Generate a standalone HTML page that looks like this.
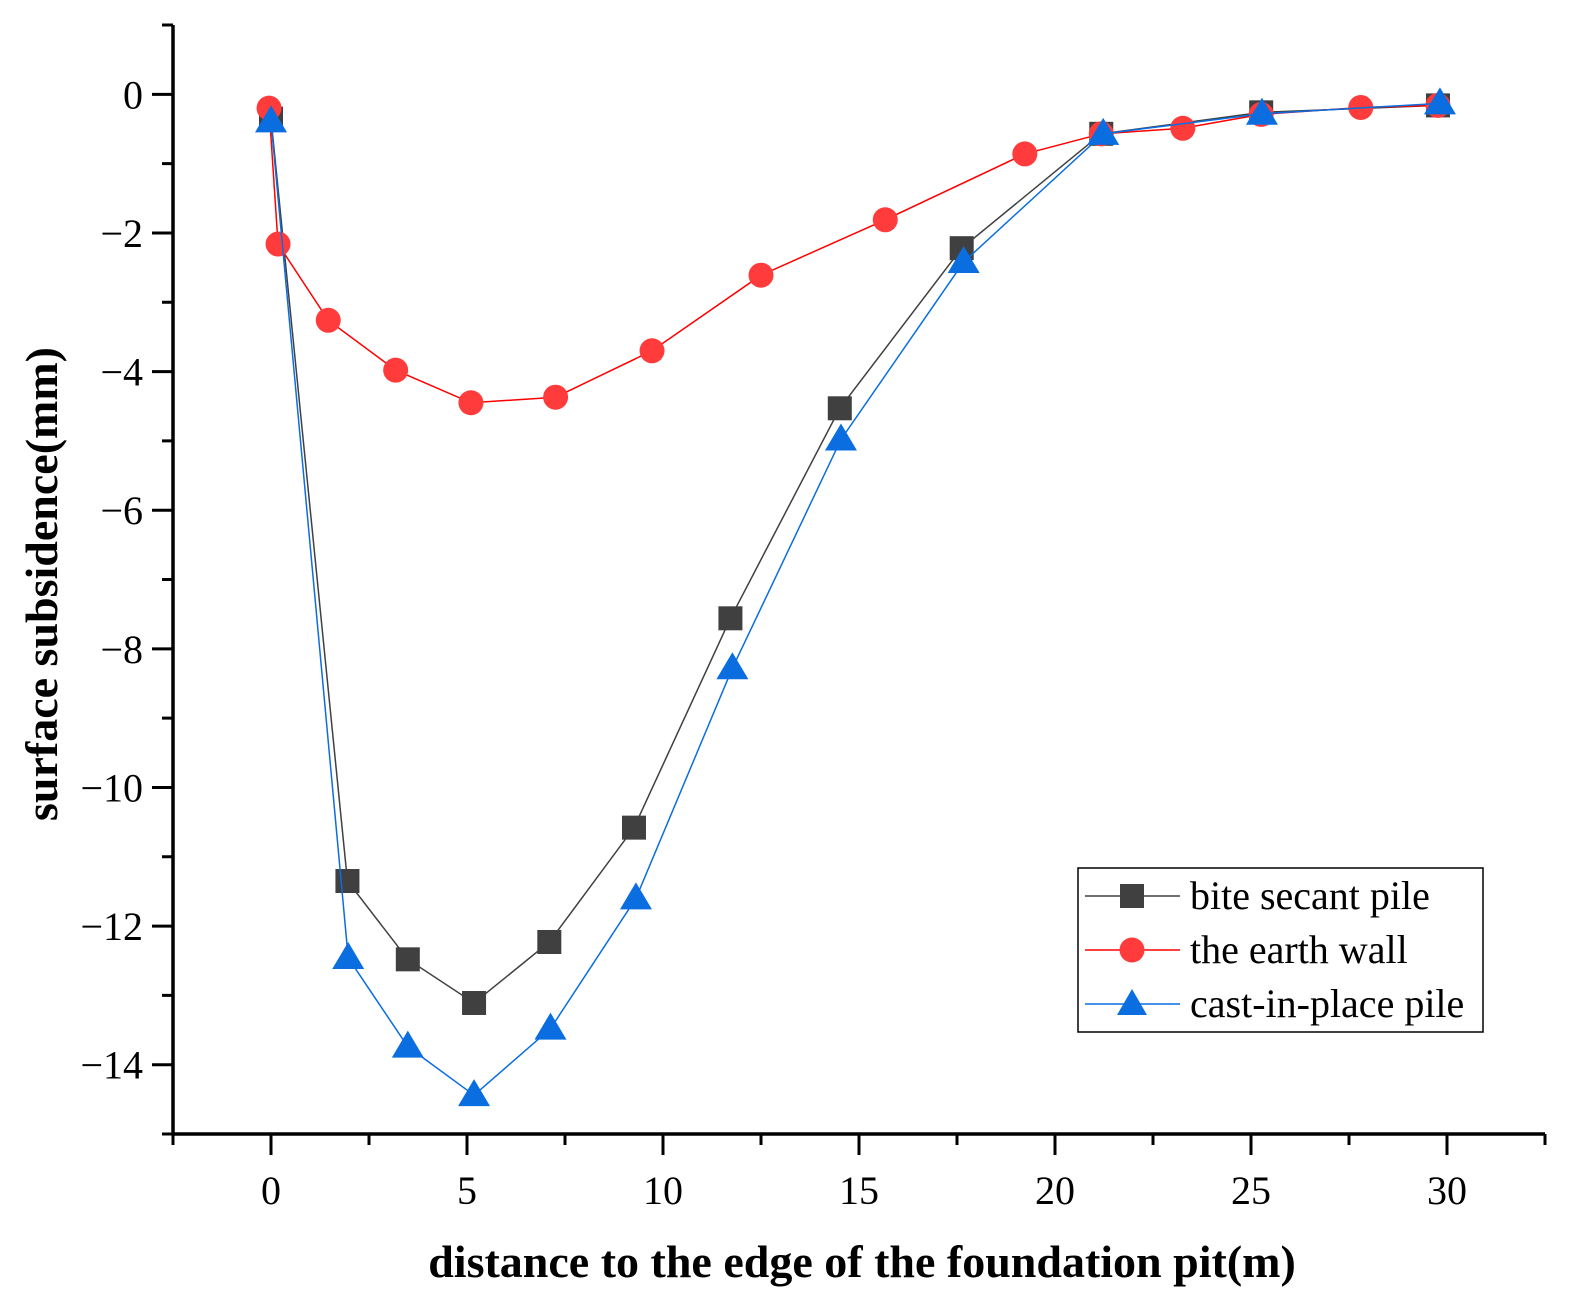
<!DOCTYPE html>
<html><head><meta charset="utf-8"><style>
html,body{margin:0;padding:0;background:#fff;}
svg{display:block;font-family:"Liberation Serif",serif;}
</style></head><body>
<svg id="chart" width="1579" height="1297" viewBox="0 0 1579 1297" xmlns="http://www.w3.org/2000/svg">
<g id="axes"></g>
<g id="series"></g>
<text x="862" y="1277" text-anchor="middle" font-size="46" font-weight="bold">distance to the edge of the foundation pit(m)</text>
<text transform="translate(57,584) rotate(-90)" text-anchor="middle" font-size="46" font-weight="bold">surface subsidence(mm)</text>
<g>
<rect x="1078" y="868" width="405" height="164" fill="#fff" stroke="#000" stroke-width="1.5"/>
<g>
<line x1="1085" y1="896" x2="1180" y2="896" stroke="#404040" stroke-width="1.5"/>
<rect x="1120" y="884" width="24" height="24" fill="#404040"/>
<text x="1190" y="909" font-size="40">bite secant pile</text></g>
<g>
<line x1="1085" y1="950" x2="1180" y2="950" stroke="#ff0000" stroke-width="1.5"/>
<circle cx="1132" cy="950" r="12.5" fill="#ff3b3b"/>
<text x="1190" y="963" font-size="40">the earth wall</text></g>
<g>
<line x1="1085" y1="1004" x2="1180" y2="1004" stroke="#0a6ee0" stroke-width="1.5"/>
<polygon points="1132,989 1147,1015 1117,1015" fill="#0a6ee0"/>
<text x="1190" y="1017" font-size="40">cast-in-place pile</text></g>
</g>
</svg>
<script>
const xTicks=[0,5,10,15,20,25,30];
const yTicks=[0,-2,-4,-6,-8,-10,-12,-14];
const biteX=[0,1.95,3.49,5.18,7.1,9.26,11.72,14.51,17.62,21.18,25.26,29.77];
const biteY=[-0.35,-11.35,-12.48,-13.11,-12.23,-10.58,-7.56,-4.53,-2.22,-0.57,-0.26,-0.16];
const earthX=[-0.05,0.18,1.46,3.18,5.1,7.26,9.72,12.5,15.67,19.23,21.18,23.26,25.26,27.8,29.77];
const earthY=[-0.2,-2.16,-3.26,-3.98,-4.45,-4.37,-3.7,-2.61,-1.81,-0.86,-0.57,-0.49,-0.29,-0.19,-0.16];
const castX=[0,1.97,3.49,5.18,7.13,9.31,11.77,14.54,17.67,21.23,25.28,29.82];
const castY=[-0.39,-12.46,-13.74,-14.44,-13.48,-11.6,-8.28,-4.98,-2.42,-0.57,-0.28,-0.13];
const NS="http://www.w3.org/2000/svg";
const X0=173,X1=1545,Y0=25,Y1=1134,xmin=-2.5,xmax=32.5,ymin=-15,ymax=1;
const sx=v=>X0+(v-xmin)/(xmax-xmin)*(X1-X0);
const sy=v=>Y1-(v-ymin)/(ymax-ymin)*(Y1-Y0);
function mk(t,a,p){const e=document.createElementNS(NS,t);for(const k in a)e.setAttribute(k,a[k]);p.appendChild(e);return e;}
const ax=document.getElementById('axes');
let l=mk('line',{x1:X0,y1:Y0,x2:X0,y2:Y1+1.5,stroke:'#000','stroke-width':3.5},ax);


l=mk('line',{x1:X0-1.5,y1:Y1,x2:X1,y2:Y1,stroke:'#000','stroke-width':3.5},ax);


for(let v=xmin;v<=xmax+0.01;v+=2.5){const maj=xTicks.includes(v);mk('line',{x1:sx(v),y1:Y1,x2:sx(v),y2:Y1+(maj?21:11),stroke:'#000','stroke-width':3},ax);}
for(let v=ymin;v<=ymax+0.01;v+=1){const maj=yTicks.includes(v);mk('line',{x1:X0,y1:sy(v),x2:X0-(maj?21:11),y2:sy(v),stroke:'#000','stroke-width':3},ax);}
xTicks.forEach(v=>{const t=mk('text',{x:sx(v),y:Y1+70,'text-anchor':'middle','font-size':40},ax);t.textContent=v;

});
yTicks.forEach(v=>{const t=mk('text',{x:X0-30,y:sy(v)+14,'text-anchor':'end','font-size':40},ax);t.textContent=v===0?'0':'\u2212'+Math.abs(v);

});
const sg=document.getElementById('series');
function series(xs,ys,col,mcol,shape,name){
  const g=mk('g',{},sg);
  
  
  mk('polyline',{points:xs.map((x,i)=>sx(x)+','+sy(ys[i])).join(' '),fill:'none',stroke:col,'stroke-width':1.5},g);
  xs.forEach((x,i)=>{const cx=sx(x),cy=sy(ys[i]);let m;
    if(shape==='sq')m=mk('rect',{x:cx-12,y:cy-12,width:24,height:24,fill:mcol},g);
    else if(shape==='ci')m=mk('circle',{cx:cx,cy:cy,r:12.5,fill:mcol},g);
    else m=mk('polygon',{points:`${cx},${cy-16} ${cx+16},${cy+11} ${cx-16},${cy+11}`,fill:mcol},g);
    
    });
}
series(biteX,biteY,'#404040','#404040','sq','bite-secant-pile-series');
series(earthX,earthY,'#ff0000','#ff3b3b','ci','earth-wall-series');
series(castX,castY,'#0a6ee0','#0a6ee0','tr','cast-in-place-pile-series');
</script>
</body></html>
